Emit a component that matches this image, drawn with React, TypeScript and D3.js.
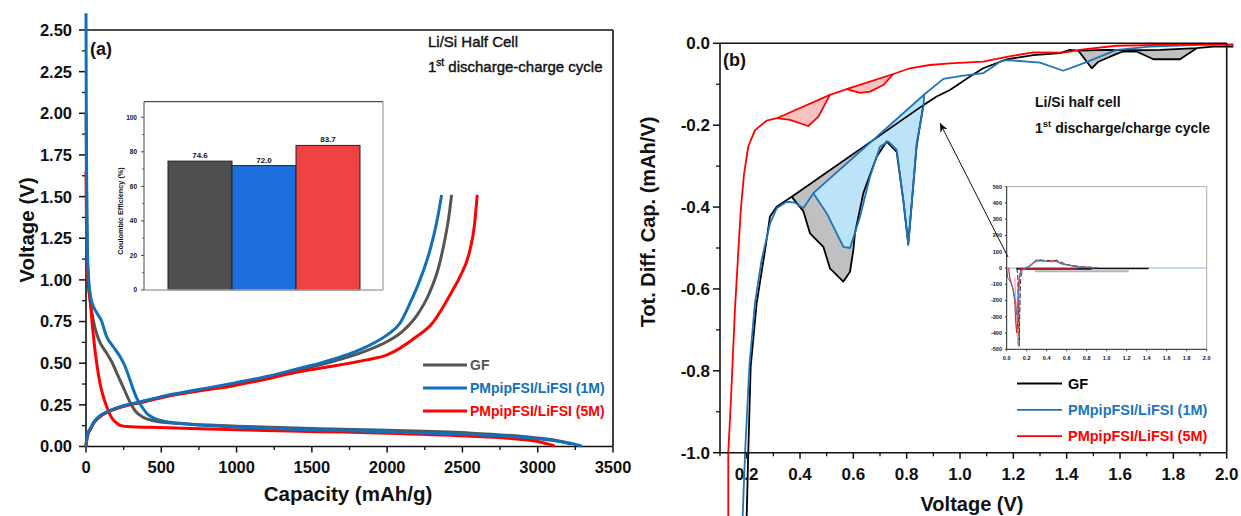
import React from 'react';
import * as d3 from 'd3';

const FONT = 'Arial, "Liberation Sans", Helvetica, sans-serif';

// ---------- Panel (a): galvanostatic curves ----------
const capTicks = [0, 500, 1000, 1500, 2000, 2500, 3000, 3500];
const capMinor = [250, 750, 1250, 1750, 2250, 2750, 3250];
const voltTicks = [0, 0.25, 0.5, 0.75, 1.0, 1.25, 1.5, 1.75, 2.0, 2.25, 2.5];
const voltMinor = [0.125, 0.375, 0.625, 0.875, 1.125, 1.375, 1.625, 1.875, 2.125, 2.375];
const seriesA = ['GF', 'PMpipFSI/LiFSI (1M)', 'PMpipFSI/LiFSI (5M)'];

const dischargeGF: [number, number][] = [
  [0, 2.0], [3, 1.6], [8, 1.2], [15, 1.0], [25, 0.9], [40, 0.8], [60, 0.71], [90, 0.63], [130, 0.57],
  [170, 0.51], [210, 0.43], [250, 0.35], [290, 0.27], [330, 0.21], [380, 0.175], [450, 0.155],
  [550, 0.142], [700, 0.134], [1000, 0.122], [1554, 0.106], [2000, 0.097], [2528, 0.082],
  [2900, 0.06], [3100, 0.04], [3220, 0.015],
];
const discharge1M: [number, number][] = [
  [0, 2.6], [2, 2.0], [5, 1.5], [10, 1.15], [20, 0.98], [35, 0.88], [55, 0.83], [80, 0.79], [100, 0.76],
  [137, 0.66], [180, 0.6], [226, 0.54], [260, 0.48], [292, 0.4], [315, 0.34], [337, 0.29], [370, 0.24],
  [403, 0.2], [450, 0.17], [536, 0.149], [650, 0.137], [757, 0.129], [1000, 0.117], [1554, 0.099],
  [2000, 0.088], [2528, 0.073], [2800, 0.062], [2969, 0.05], [3200, 0.022], [3292, 0.003],
];
const discharge5M: [number, number][] = [
  [0, 1.65], [3, 1.35], [9, 1.1], [18, 0.95], [27, 0.88], [45, 0.7], [71, 0.5], [93, 0.38], [115, 0.3],
  [137, 0.24], [160, 0.19], [181, 0.16], [205, 0.14], [226, 0.127], [300, 0.118], [425, 0.115],
  [700, 0.108], [1000, 0.1], [1554, 0.089], [2000, 0.08], [2528, 0.063], [2800, 0.05], [3000, 0.03],
  [3113, 0.004],
];
const chargeGF: [number, number][] = [
  [0, 0], [5, 0.04], [15, 0.08], [27, 0.1], [50, 0.14], [93, 0.18], [150, 0.21], [204, 0.23], [280, 0.25],
  [359, 0.265], [450, 0.285], [536, 0.303], [750, 0.338], [979, 0.375], [1200, 0.415], [1554, 0.49],
  [1864, 0.575], [2000, 0.63], [2100, 0.69], [2200, 0.79], [2280, 0.92], [2340, 1.07], [2385, 1.25],
  [2410, 1.38], [2428, 1.51],
];
const charge1M: [number, number][] = [
  [0, 0], [5, 0.045], [15, 0.085], [27, 0.105], [50, 0.145], [93, 0.185], [150, 0.213], [204, 0.232],
  [280, 0.252], [359, 0.268], [450, 0.288], [536, 0.307], [750, 0.342], [979, 0.38], [1200, 0.42],
  [1421, 0.47], [1554, 0.5], [1700, 0.54], [1864, 0.6], [2000, 0.67], [2085, 0.74], [2152, 0.86],
  [2218, 1.0], [2285, 1.18], [2330, 1.35], [2362, 1.51],
];
const charge5M: [number, number][] = [
  [0, 0], [5, 0.04], [15, 0.08], [27, 0.1], [50, 0.14], [93, 0.18], [150, 0.21], [204, 0.228], [280, 0.248],
  [359, 0.263], [450, 0.282], [536, 0.3], [750, 0.333], [979, 0.365], [1200, 0.405], [1421, 0.45],
  [1554, 0.47], [1864, 0.52], [2000, 0.55], [2196, 0.66], [2300, 0.74], [2373, 0.84], [2430, 0.93],
  [2484, 1.02], [2550, 1.18], [2580, 1.33], [2598, 1.51],
];

// inset bar chart (Coulombic efficiency)
const ceCategories = ['GF', '1M', '5M'];
const ceValues = [74.6, 72.0, 83.7];
const ceLabels = ['74.6', '72.0', '83.7'];
const ceTicks = [0, 20, 40, 60, 80, 100];
const ceMinor = [10, 30, 50, 70, 90];

// ---------- Panel (b): differential capacity ----------
const vTicks = [0.2, 0.4, 0.6, 0.8, 1.0, 1.2, 1.4, 1.6, 1.8, 2.0];
const vMinor = [0.1, 0.3, 0.5, 0.7, 0.9, 1.1, 1.3, 1.5, 1.7, 1.9];
const dqTicks = [0, -0.2, -0.4, -0.6, -0.8, -1.0];
const dqMinor = [-0.1, -0.3, -0.5, -0.7, -0.9];

const dqGF: [number, number][] = [
  [0.2, -1.156], [0.206, -1.0], [0.215, -0.79], [0.2375, -0.635], [0.269, -0.505], [0.2875, -0.423],
  [0.3125, -0.399], [0.369, -0.375], [0.8625, -0.151], [0.9125, -0.13], [0.962, -0.114], [1.0375, -0.081],
  [1.087, -0.061], [1.175, -0.039], [1.275, -0.029], [1.375, -0.024], [1.412, -0.016], [1.444, -0.018],
  [1.55, -0.016], [1.65, -0.017], [1.75, -0.016], [1.887, -0.012], [1.95, -0.008], [2.025, -0.008],
];
const dqGFLoops: [number, number][][] = [
  [
    [0.369, -0.375], [0.4125, -0.41], [0.4375, -0.464], [0.4875, -0.497], [0.5125, -0.55], [0.5625, -0.582],
    [0.5875, -0.558], [0.6, -0.505], [0.606, -0.464], [0.6375, -0.366], [0.6875, -0.277], [0.725, -0.24],
    [0.7625, -0.265], [0.7875, -0.385], [0.806, -0.49], [0.8375, -0.25], [0.8625, -0.151],
  ],
  [
    [1.444, -0.018], [1.494, -0.061], [1.519, -0.045], [1.587, -0.026], [1.612, -0.02], [1.662, -0.02],
    [1.725, -0.039], [1.825, -0.039], [1.887, -0.012],
  ],
];
const dq1M: [number, number][] = [
  [0.185, -1.156], [0.194, -1.0], [0.21, -0.79], [0.231, -0.635], [0.256, -0.529], [0.2875, -0.44],
  [0.3125, -0.403], [0.35, -0.387], [0.381, -0.389], [0.4125, -0.403], [0.45, -0.366], [0.866, -0.125],
  [0.9375, -0.087], [1.0, -0.08], [1.087, -0.073], [1.15, -0.045], [1.175, -0.041], [1.3, -0.047],
  [1.387, -0.067], [1.462, -0.049], [1.587, -0.016], [1.712, -0.008], [1.9, -0.004], [2.025, -0.004],
];
const dq1MLoops: [number, number][][] = [
  [
    [0.45, -0.366], [0.5, -0.415], [0.5625, -0.497], [0.5875, -0.5], [0.625, -0.424], [0.6625, -0.326],
    [0.7, -0.252], [0.731, -0.24], [0.7625, -0.26], [0.7875, -0.383], [0.806, -0.493], [0.8375, -0.244],
    [0.8625, -0.155], [0.866, -0.125],
  ],
];
const dq5M: [number, number][] = [
  [0.131, -1.156], [0.131, -1.0], [0.141, -0.871], [0.156, -0.651], [0.169, -0.505], [0.178, -0.407],
  [0.19, -0.32], [0.206, -0.252], [0.231, -0.212], [0.275, -0.189], [0.313, -0.183], [0.512, -0.126],
  [0.575, -0.112], [0.75, -0.075], [0.812, -0.061], [0.887, -0.053], [0.962, -0.049], [1.087, -0.045],
  [1.175, -0.033], [1.275, -0.022], [1.387, -0.023], [1.462, -0.015], [1.587, -0.006], [1.8375, -0.0025],
  [2.025, -0.0025],
];
const dq5MLoops: [number, number][][] = [
  [[0.313, -0.183], [0.3625, -0.187], [0.431, -0.202], [0.469, -0.179], [0.512, -0.126]],
  [[0.575, -0.112], [0.625, -0.121], [0.6625, -0.118], [0.7125, -0.102], [0.75, -0.075]],
];
const arrowFrom: [number, number] = [1.18, -0.522];
const arrowTo: [number, number] = [0.925, -0.195];

// inset of panel (b)
const insetXTicks = [0, 0.2, 0.4, 0.6, 0.8, 1.0, 1.2, 1.4, 1.6, 1.8, 2.0];
const insetYTicks = [500, 400, 300, 200, 100, 0, -100, -200, -300, -400, -500];
const insetBaseline: [number, number][] = [[0, 0], [2, 0]];
const insetHystBlack: [number, number][] = [[0.1, -3], [1.42, -3]];
const insetHystGray: [number, number][] = [[0.28, -20], [1.22, -20]];
const insetHystBlue: [number, number][] = [[0.1, -8], [0.85, -8]];
const insetHystRed: [number, number][] = [[0.12, -5], [0.7, -5]];
const insetBlue: [number, number][] = [
  [0, 0], [0.01, -60], [0.04, -90], [0.07, -140], [0.09, -220], [0.1, -290], [0.11, -240], [0.12, -150],
  [0.13, -40], [0.16, -10], [0.22, 10], [0.28, 35], [0.32, 48], [0.38, 42], [0.45, 38], [0.5, 42],
  [0.55, 28], [0.62, 18], [0.7, 8], [0.8, 3], [0.9, 0],
];
const insetRed: [number, number][] = [
  [0.02, 0], [0.03, -60], [0.06, -120], [0.08, -200], [0.09, -330], [0.1, -400], [0.11, -330], [0.12, -80],
  [0.14, -15], [0.22, 8], [0.28, 40], [0.33, 45], [0.4, 40], [0.48, 45], [0.55, 25], [0.7, 8], [0.85, 2],
];
const insetPaleRed: [number, number][] = [[0.08, -60], [0.1, -300], [0.11, -470], [0.12, -150], [0.13, -30]];
const insetBlack: [number, number][] = [
  [0.1, 0], [0.11, -40], [0.12, -250], [0.125, -480], [0.13, -300], [0.14, -60], [0.16, -10], [0.25, 20],
  [0.3, 52], [0.36, 48], [0.45, 45], [0.5, 48], [0.6, 20], [0.75, 8], [0.9, 3],
];
const insetGrayDip: [number, number][] = [[0.11, -100], [0.12, -490], [0.13, -150]];

const colorsA = ['#555555', '#1170b8', '#ff0000'];
const barColors = ['#4f4f4f', '#1c6fdc', '#ef4242'];
const colorsB = ['#000000', '#1f74b8', '#ff0000'];
const fillsB = ['#c0c0c0', '#bce3f8', '#f8c2c2'];

export default function App() {
  // panel a scales
  const xA = d3.scaleLinear().domain([0, 3500]).range([86, 613]);
  const yA = d3.scaleLinear().domain([0, 2.5]).range([446.5, 30]);
  const lineA = d3.line<[number, number]>().x(d => xA(d[0])).y(d => yA(d[1])).curve(d3.curveMonotoneX);

  // inset bar
  const xBar = d3.scaleBand<string>().domain(ceCategories).range([168, 360]).padding(0);
  const yBar = d3.scaleLinear().domain([0, 109]).range([290, 101.7]);

  // panel b scales
  const xB = d3.scaleLinear().domain([0.1, 2.0]).range([720, 1226.7]);
  const yB = d3.scaleLinear().domain([-1, 0]).range([452.7, 43.3]);
  const lineB = d3.line<[number, number]>().x(d => xB(d[0])).y(d => yB(d[1]));

  const loopPoly = (main: [number, number][], lower: [number, number][]) => {
    const x0 = lower[0][0];
    const x1 = lower[lower.length - 1][0];
    const mid = main.filter(p => p[0] > x0 && p[0] < x1).reverse();
    return lineB([...lower, ...mid]) + 'Z';
  };

  // inset b
  const xI = d3.scaleLinear().domain([0, 2]).range([1006.7, 1206.7]);
  const yI = d3.scaleLinear().domain([-500, 500]).range([349.3, 186.7]);
  const lineI = d3.line<[number, number]>().x(d => xI(d[0])).y(d => yI(d[1]));

  const dischargesA = [dischargeGF, discharge1M, discharge5M];
  const chargesA = [chargeGF, charge1M, charge5M];
  const mainB = [dqGF, dq1M, dq5M];
  const loopsB = [dqGFLoops, dq1MLoops, dq5MLoops];

  const tickFont = { fontFamily: FONT, fontWeight: 700 as const };

  return (
    <svg width={1241} height={516} style={{ position: 'absolute', left: 0, top: 0, background: '#fff' }}>
      <defs>
        <marker id="arr" markerWidth={10} markerHeight={10} refX={9} refY={5} orient="auto" markerUnits="userSpaceOnUse">
          <path d="M0,1 L9,5 L0,9 L3,5 Z" fill="#000" />
        </marker>
      </defs>
      <rect x={0} y={0} width={1241} height={516} fill="#fff" />

      {/* ================= Panel (a) ================= */}
      <g>
        {/* frame */}
        <line x1={xA(0)} x2={xA(3500)} y1={yA(2.5)} y2={yA(2.5)} stroke="#111" strokeWidth={1.6} />
        <line x1={xA(3500)} x2={xA(3500)} y1={yA(2.5)} y2={yA(0)} stroke="#111" strokeWidth={1.6} />
        <line x1={xA(0)} x2={xA(3500)} y1={yA(0)} y2={yA(0)} stroke="#111" strokeWidth={1.6} />
        <line x1={xA(0)} x2={xA(0)} y1={yA(2.5)} y2={yA(0)} stroke="#111" strokeWidth={1.6} />
        {capTicks.map(t => (
          <g key={'cx' + t}>
            <line x1={xA(t)} x2={xA(t)} y1={yA(0)} y2={yA(0) + 6} stroke="#111" strokeWidth={1.5} />
            <text x={xA(t)} y={473} textAnchor="middle" fontSize={16.5} {...tickFont} fill="#111">{t}</text>
          </g>
        ))}
        {capMinor.map(t => (
          <line key={'cm' + t} x1={xA(t)} x2={xA(t)} y1={yA(0)} y2={yA(0) + 3.5} stroke="#111" strokeWidth={1.3} />
        ))}
        {voltTicks.map(t => (
          <g key={'vy' + t}>
            <line x1={xA(0) - 7} x2={xA(0)} y1={yA(t)} y2={yA(t)} stroke="#111" strokeWidth={1.5} />
            <text x={72} y={yA(t)} dy="0.36em" textAnchor="end" fontSize={16.5} {...tickFont} fill="#111">{t.toFixed(2)}</text>
          </g>
        ))}
        {voltMinor.map(t => (
          <line key={'vm' + t} x1={xA(0) - 4} x2={xA(0)} y1={yA(t)} y2={yA(t)} stroke="#111" strokeWidth={1.3} />
        ))}
        <text x={348} y={501} textAnchor="middle" fontSize={20.5} {...tickFont} fill="#111">Capacity (mAh/g)</text>
        <text transform="translate(34,230) rotate(-90)" textAnchor="middle" fontSize={20.5} {...tickFont} fill="#111">Voltage (V)</text>

        {/* curves */}
        {[0, 2, 1].map(i => (
          <g key={'ca' + i}>
            <path d={lineA(chargesA[i]) || ''} fill="none" stroke={colorsA[i]} strokeWidth={3} />
            <path d={lineA(dischargesA[i]) || ''} fill="none" stroke={colorsA[i]} strokeWidth={3} />
          </g>
        ))}

        <text x={90} y={55} fontSize={18} {...tickFont} fill="#111">(a)</text>
        <text x={428} y={47} fontSize={15} fontFamily={FONT} fill="#111" stroke="#111" strokeWidth={0.4}>Li/Si Half Cell</text>
        <text x={428} y={72} fontSize={15} fontFamily={FONT} fill="#111" stroke="#111" strokeWidth={0.4}>
          <tspan>1</tspan>
          <tspan dy={-6} fontSize={10}>st</tspan>
          <tspan dy={6}> discharge-charge cycle</tspan>
        </text>

        {/* legend */}
        {seriesA.map((s, i) => (
          <g key={'la' + s}>
            <line x1={423} x2={467} y1={365 + i * 23} y2={365 + i * 23} stroke={colorsA[i]} strokeWidth={3} />
            <text x={470} y={365 + i * 23} dy="0.36em" fontSize={14} {...tickFont} fill={colorsA[i]}>{s}</text>
          </g>
        ))}

        {/* inset bar chart */}
        <rect x={144} y={101.7} width={239} height={188.3} fill="#fff" />
        <line x1={144} x2={383} y1={101.7} y2={101.7} stroke="#222" strokeWidth={1} />
        <line x1={383} x2={383} y1={101.7} y2={290} stroke="#999" strokeWidth={1.2} />
        {ceCategories.map((c, i) => (
          <g key={'bar' + c}>
            <rect x={xBar(c)} y={yBar(ceValues[i])} width={xBar.bandwidth()} height={yBar(0) - yBar(ceValues[i])}
              fill={barColors[i]} stroke="#222" strokeWidth={1} />
            <text x={(xBar(c) || 0) + xBar.bandwidth() / 2} y={yBar(ceValues[i]) - 3} textAnchor="middle" fontSize={8} {...tickFont} fill="#111">{ceLabels[i]}</text>
          </g>
        ))}
        <line x1={144} x2={383} y1={290} y2={290} stroke="#aaa" strokeWidth={1.5} />
        <line x1={144} x2={144} y1={101.7} y2={290} stroke="#444" strokeWidth={1} />
        {ceTicks.map(t => (
          <g key={'ce' + t}>
            <line x1={141} x2={144} y1={yBar(t)} y2={yBar(t)} stroke="#444" strokeWidth={1} />
            <text x={137} y={yBar(t)} dy="0.35em" textAnchor="end" fontSize={6.5} {...tickFont} fill="#111">{t}</text>
          </g>
        ))}
        {ceMinor.map(t => (
          <line key={'cem' + t} x1={142} x2={144} y1={yBar(t)} y2={yBar(t)} stroke="#444" strokeWidth={0.8} />
        ))}
        <text transform="translate(123,211) rotate(-90)" textAnchor="middle" fontSize={7.3} {...tickFont} fill="#111">Coulombic Efficiency (%)</text>
      </g>

      {/* ================= Panel (b) ================= */}
      <g>
        {/* fills */}
        {loopsB.map((loops, i) => loops.map((lp, j) => (
          <path key={'fb' + i + '-' + j} d={loopPoly(mainB[i], lp)} fill={fillsB[i]} stroke="none" />
        )))}
        {/* lines */}
        {[0, 1, 2].map(i => (
          <g key={'lb' + i}>
            {loopsB[i].map((lp, j) => (
              <path key={'lo' + j} d={lineB(lp) || ''} fill="none" stroke={colorsB[i]} strokeWidth={1.8} strokeLinejoin="round" />
            ))}
            <path d={lineB(mainB[i]) || ''} fill="none" stroke={colorsB[i]} strokeWidth={1.8} strokeLinejoin="round" />
          </g>
        ))}

        {/* frame & axes */}
        <line x1={xB(0.1)} x2={xB(2.0)} y1={yB(0)} y2={yB(0)} stroke="#111" strokeWidth={1.6} />
        <line x1={xB(2.0)} x2={xB(2.0)} y1={yB(0)} y2={yB(-1)} stroke="#111" strokeWidth={1.6} />
        <line x1={xB(0.1)} x2={xB(2.0)} y1={yB(-1)} y2={yB(-1)} stroke="#111" strokeWidth={1.6} />
        <line x1={xB(0.1)} x2={xB(0.1)} y1={yB(0)} y2={yB(-1)} stroke="#111" strokeWidth={1.6} />
        {vTicks.map(t => (
          <g key={'bx' + t}>
            <line x1={xB(t)} x2={xB(t)} y1={yB(-1)} y2={yB(-1) + 6} stroke="#111" strokeWidth={1.5} />
            <text x={xB(t)} y={480} textAnchor="middle" fontSize={17} {...tickFont} fill="#111">{t.toFixed(1)}</text>
          </g>
        ))}
        {vMinor.map(t => (
          <line key={'bxm' + t} x1={xB(t)} x2={xB(t)} y1={yB(-1)} y2={yB(-1) + 3.5} stroke="#111" strokeWidth={1.3} />
        ))}
        {dqTicks.map(t => (
          <g key={'by' + t}>
            <line x1={xB(0.1) - 7} x2={xB(0.1)} y1={yB(t)} y2={yB(t)} stroke="#111" strokeWidth={1.5} />
            <text x={710} y={yB(t)} dy="0.36em" textAnchor="end" fontSize={17} {...tickFont} fill="#111">{t === 0 ? '0.0' : t.toFixed(1)}</text>
          </g>
        ))}
        {dqMinor.map(t => (
          <line key={'bym' + t} x1={xB(0.1) - 4} x2={xB(0.1)} y1={yB(t)} y2={yB(t)} stroke="#111" strokeWidth={1.3} />
        ))}
        <text x={972} y={511} textAnchor="middle" fontSize={20} {...tickFont} fill="#111">Voltage (V)</text>
        <text transform="translate(655,222) rotate(-90)" textAnchor="middle" fontSize={20} {...tickFont} fill="#111">Tot. Diff. Cap. (mAh/V)</text>

        <text x={723} y={66} fontSize={18} {...tickFont} fill="#111">(b)</text>
        <text x={1035} y={107} fontSize={14} {...tickFont} fill="#111">Li/Si half cell</text>
        <text x={1035} y={133} fontSize={14} {...tickFont} fill="#111">
          <tspan>1</tspan>
          <tspan dy={-6} fontSize={9.5}>st</tspan>
          <tspan dy={6}> discharge/charge cycle</tspan>
        </text>

        {/* legend */}
        {seriesA.map((s, i) => (
          <g key={'lgb' + s}>
            <line x1={1017} x2={1062} y1={383.5 + i * 26.3} y2={383.5 + i * 26.3} stroke={colorsB[i]} strokeWidth={1.8} />
            <text x={1068} y={383.5 + i * 26.3} dy="0.36em" fontSize={14.5} {...tickFont} fill={colorsB[i]}>{s}</text>
          </g>
        ))}

        {/* inset */}
        <rect x={xI(0)} y={yI(500)} width={xI(2) - xI(0)} height={yI(-500) - yI(500)} fill="#fff" />
        <line x1={xI(0)} x2={xI(2)} y1={yI(500)} y2={yI(500)} stroke="#aaa" strokeWidth={1} />
        <line x1={xI(2)} x2={xI(2)} y1={yI(500)} y2={yI(-500)} stroke="#aaa" strokeWidth={1} />
        <path d={lineI(insetBaseline) || ''} fill="none" stroke="#7fb0ea" strokeWidth={1} />
        <path d={lineI(insetHystGray) || ''} fill="none" stroke="#b5b5b5" strokeWidth={2} />
        <path d={lineI(insetHystBlack) || ''} fill="none" stroke="#111" strokeWidth={1.4} />
        <path d={lineI(insetHystBlue) || ''} fill="none" stroke="#1f4f9a" strokeWidth={1.2} />
        <path d={lineI(insetHystRed) || ''} fill="none" stroke="#d62020" strokeWidth={1.2} />
        <path d={lineI(insetGrayDip) || ''} fill="none" stroke="#c8c8c8" strokeWidth={1.5} />
        <path d={lineI(insetPaleRed) || ''} fill="none" stroke="#f2a6a6" strokeWidth={1.2} />
        <path d={lineI(insetBlack) || ''} fill="none" stroke="#333" strokeWidth={1} strokeDasharray="5,2" />
        <path d={lineI(insetRed) || ''} fill="none" stroke="#e02b2b" strokeWidth={1.2} />
        <path d={lineI(insetBlue) || ''} fill="none" stroke="#3a7fd5" strokeWidth={1} />
        <line x1={xI(0)} x2={xI(2)} y1={yI(-500)} y2={yI(-500)} stroke="#222" strokeWidth={1} />
        <line x1={xI(0)} x2={xI(0)} y1={yI(500)} y2={yI(-500)} stroke="#222" strokeWidth={1} />
        {insetXTicks.map(t => (
          <g key={'ix' + t}>
            <line x1={xI(t)} x2={xI(t)} y1={yI(-500)} y2={yI(-500) + 2} stroke="#222" strokeWidth={0.8} />
            <text x={xI(t)} y={359.5} textAnchor="middle" fontSize={5.5} {...tickFont} fill="#111">{t.toFixed(1)}</text>
          </g>
        ))}
        {insetYTicks.map(t => (
          <g key={'iy' + t}>
            <line x1={xI(0) - 2} x2={xI(0)} y1={yI(t)} y2={yI(t)} stroke="#222" strokeWidth={0.8} />
            <text x={1002} y={yI(t)} dy="0.35em" textAnchor="end" fontSize={5.5} {...tickFont} fill="#111">{t}</text>
          </g>
        ))}

        {/* arrow */}
        <line x1={xB(arrowFrom[0])} y1={yB(arrowFrom[1])} x2={xB(arrowTo[0])} y2={yB(arrowTo[1])}
          stroke="#111" strokeWidth={1} markerEnd="url(#arr)" />
      </g>
    </svg>
  );
}
